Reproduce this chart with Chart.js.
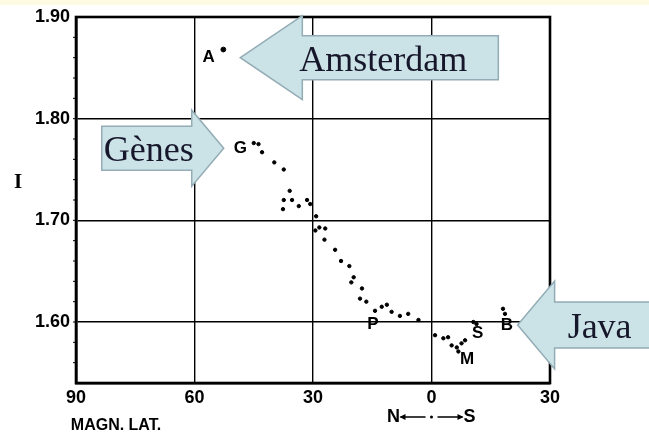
<!DOCTYPE html>
<html>
<head>
<meta charset="utf-8">
<script src="https://cdn.jsdelivr.net/npm/chart.js@4/dist/chart.umd.min.js"></script>
<style>
  html, body { margin: 0; padding: 0; background: #ffffff; }
  #wrap { width: 649px; height: 436px; position: relative; }
</style>
</head>
<body>
<div id="wrap"><canvas id="c"></canvas></div>
<script>
// Magnetic latitude (N positive, S negative) and intensity values
const stationA = [{ x: 52.7, y: 1.868 }];
const latitudes = [45.0, 43.8, 42.9, 39.8, 37.4, 35.9, 37.4, 37.6, 35.3, 33.6, 31.5, 30.7, 29.2,
  29.4, 28.4, 26.9, 27.1, 24.4, 22.9, 20.8, 19.7, 20.3, 17.6, 18.1, 16.5, 14.3, 12.6, 11.3,
  10.1, 8.0, 5.9, 3.3, -0.9, -3.0, -4.2, -5.1, -6.4, -7.6, -6.8, -8.5, -10.6, -11.4, -18.1, -18.6];
const intensities = [1.776, 1.775, 1.767, 1.757, 1.750, 1.729, 1.720, 1.711, 1.720, 1.714, 1.720, 1.716, 1.704,
  1.690, 1.693, 1.692, 1.681, 1.671, 1.660, 1.655, 1.644, 1.639, 1.633, 1.623, 1.620, 1.611, 1.615, 1.617,
  1.610, 1.606, 1.608, 1.602, 1.587, 1.584, 1.585, 1.577, 1.575, 1.579, 1.571, 1.582, 1.600, 1.598, 1.613, 1.608];

const xTicks = [90, 60, 30, 0, -30];
const yTicks = [1.60, 1.70, 1.80, 1.90];

// Station letters placed next to their points
const stationLetters = ['A', 'G', 'P', 'S', 'M', 'B'];
const letterLat = [56.4, 48.4, 14.8, -11.7, -9.0, -19.1];
const letterInt = [1.860, 1.771, 1.598, 1.589, 1.563, 1.597];

// Callout arrows: label, tip position (data units), direction
const calloutText = ['Amsterdam', 'Gènes', 'Java'];
const calloutTipLat = [48.4, 52.6, -21.8];
const calloutTipInt = [1.860, 1.771, 1.597];
const calloutDir = ['left', 'right', 'left'];

const points = latitudes.map((x, i) => ({ x, y: intensities[i] }));

const tickFont = { family: '"Liberation Sans Narrow", "Liberation Sans", Arial, sans-serif', size: 18, weight: 'bold' };

const overlay = {
  id: 'overlay',
  beforeDraw(chart) {
    const ctx = chart.ctx;
    ctx.save();
    ctx.fillStyle = '#ffffff';
    ctx.fillRect(0, 0, chart.width, chart.height);
    ctx.fillStyle = '#fdfbe2';
    ctx.fillRect(0, 0, chart.width, 5);
    ctx.restore();
  },
  afterDatasetsDraw(chart) {
    const ctx = chart.ctx;
    const area = chart.chartArea;
    const xs = chart.scales.x, ys = chart.scales.y;
    ctx.save();

    // heavy frame
    ctx.strokeStyle = '#000';
    ctx.lineWidth = 2.6;
    ctx.strokeRect(area.left, area.top, area.right - area.left, area.bottom - area.top);

    // small outer ticks on the left frame
    ctx.lineWidth = 1;
    for (let v = 1.56; v < 1.9; v += 0.02) {
      const py = ys.getPixelForValue(v);
      ctx.beginPath();
      ctx.moveTo(area.left - 3, py);
      ctx.lineTo(area.left, py);
      ctx.stroke();
    }

    // station letters
    ctx.fillStyle = '#000';
    ctx.font = 'bold 17px "Liberation Sans", Arial, sans-serif';
    ctx.textAlign = 'center';
    ctx.textBaseline = 'middle';
    stationLetters.forEach((t, i) => {
      ctx.fillText(t, xs.getPixelForValue(letterLat[i]), ys.getPixelForValue(letterInt[i]));
    });

    // axis captions
    ctx.font = 'bold 16px ' + tickFont.family;
    ctx.fillText('MAGN. LAT.', area.left + 40, 426);
    const x0 = xs.getPixelForValue(0);
    ctx.font = 'bold 18px ' + tickFont.family;
    ctx.fillText('N', x0 - 38, 417);
    ctx.fillText('S', x0 + 38, 417);
    ctx.lineWidth = 1.6;
    ctx.beginPath();
    ctx.moveTo(x0 - 31, 417); ctx.lineTo(x0 - 6, 417);
    ctx.moveTo(x0 + 6, 417); ctx.lineTo(x0 + 31, 417);
    ctx.stroke();
    ctx.beginPath();
    ctx.moveTo(x0 - 32, 417); ctx.lineTo(x0 - 26, 414); ctx.lineTo(x0 - 26, 420); ctx.closePath();
    ctx.moveTo(x0 + 32, 417); ctx.lineTo(x0 + 26, 414); ctx.lineTo(x0 + 26, 420); ctx.closePath();
    ctx.fill();
    ctx.beginPath();
    ctx.arc(x0, 417, 1.5, 0, Math.PI * 2);
    ctx.fill();
    ctx.font = 'bold 21px "Liberation Serif", serif';
    ctx.fillText('I', 18, 183);

    // callout arrows
    const shapes = [
      { headLen: 62, headHalf: 42, bodyHalf: 22, bodyLen: 196, textDx: 143 },
      { headLen: 32, headHalf: 38, bodyHalf: 22, bodyLen: 90, textDx: -75 },
      { headLen: 37, headHalf: 44, bodyHalf: 23, bodyLen: 120, textDx: 82 }
    ];
    calloutText.forEach((label, i) => {
      const s = shapes[i];
      const tx = xs.getPixelForValue(calloutTipLat[i]);
      const ty = ys.getPixelForValue(calloutTipInt[i]);
      const d = calloutDir[i] === 'left' ? 1 : -1;
      const hb = tx + d * s.headLen;
      const be = hb + d * s.bodyLen;
      ctx.beginPath();
      ctx.moveTo(tx, ty);
      ctx.lineTo(hb, ty - s.headHalf);
      ctx.lineTo(hb, ty - s.bodyHalf);
      ctx.lineTo(be, ty - s.bodyHalf);
      ctx.lineTo(be, ty + s.bodyHalf);
      ctx.lineTo(hb, ty + s.bodyHalf);
      ctx.lineTo(hb, ty + s.headHalf);
      ctx.closePath();
      ctx.fillStyle = '#cbe2e7';
      ctx.fill();
      ctx.strokeStyle = '#93acb5';
      ctx.lineWidth = 1.5;
      ctx.stroke();
      ctx.fillStyle = '#17172c';
      ctx.font = '36px "Liberation Serif", "Times New Roman", serif';
      ctx.textAlign = 'center';
      ctx.textBaseline = 'alphabetic';
      ctx.fillText(label, tx + s.textDx, ty + 13);
    });

    ctx.restore();
  }
};

new Chart(document.getElementById('c'), {
  type: 'scatter',
  data: {
    datasets: [
      { data: stationA, backgroundColor: '#000', borderColor: '#000', pointRadius: 2.4, pointStyle: 'circle' },
      { data: points, backgroundColor: '#000', borderColor: '#000', pointRadius: 1.7, pointStyle: 'circle' }
    ]
  },
  options: {
    responsive: true,
    maintainAspectRatio: false,
    animation: false,
    layout: { padding: { top: 17, right: 99, left: 0, bottom: 0 } },
    plugins: { legend: { display: false }, tooltip: { enabled: false } },
    scales: {
      x: {
        type: 'linear', min: -30, max: 90, reverse: true,
        afterBuildTicks: (ax) => { ax.ticks = xTicks.map(v => ({ value: v })); },
        afterFit: (ax) => { ax.height = 53; },
        ticks: { color: '#000', font: tickFont, padding: 4, callback: (v) => String(Math.abs(v)) },
        grid: { color: '#000', lineWidth: 1.4, drawTicks: false },
        border: { color: '#000', width: 2.6 }
      },
      y: {
        type: 'linear', min: 1.54, max: 1.90,
        afterBuildTicks: (ax) => { ax.ticks = yTicks.map(v => ({ value: v })); },
        afterFit: (ax) => { ax.width = 76; },
        ticks: { color: '#000', font: tickFont, padding: 6, callback: (v) => Number(v).toFixed(2) },
        grid: { color: '#000', lineWidth: 1.4, drawTicks: false },
        border: { color: '#000', width: 2.6 }
      }
    }
  },
  plugins: [overlay]
});
</script>
</body>
</html>
